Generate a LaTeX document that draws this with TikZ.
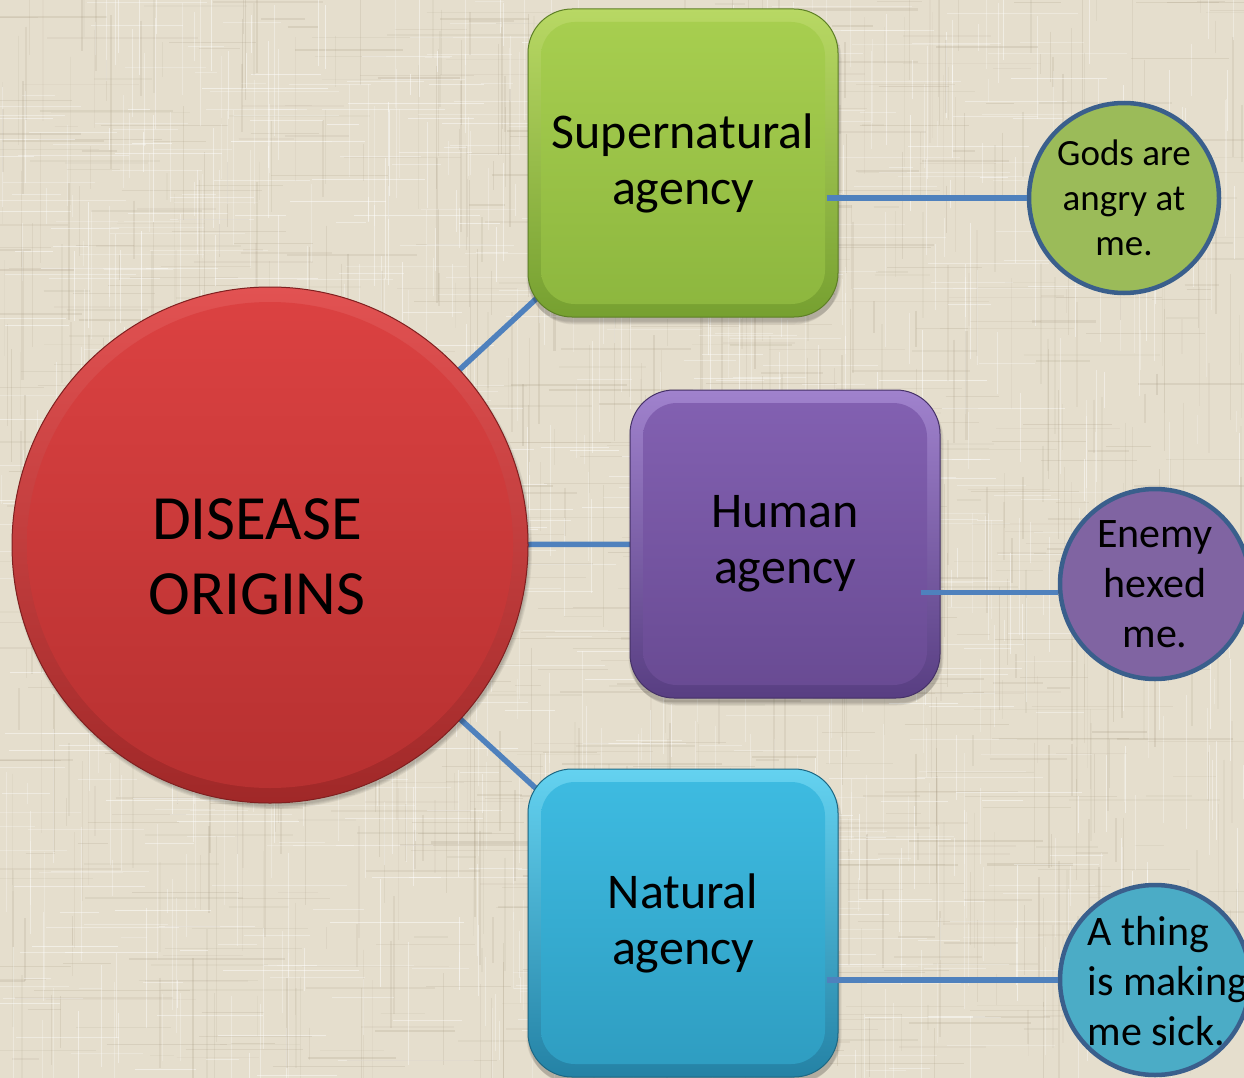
\documentclass[tikz,border=0pt]{standalone}
\usepackage{fontspec}
\setmainfont{Carlito}
\usetikzlibrary{calc}

% palette
\definecolor{linen}{RGB}{229,222,205}
\definecolor{linendark}{RGB}{165,152,128}
\definecolor{linkblue}{RGB}{79,129,189}
\definecolor{ringblue}{RGB}{58,95,140}
% green box
\definecolor{gRimT}{RGB}{184,216,100}
\definecolor{gRimB}{RGB}{118,160,48}
\definecolor{gFaceT}{RGB}{168,207,80}
\definecolor{gFaceB}{RGB}{140,182,62}
% purple box
\definecolor{pRimT}{RGB}{160,130,205}
\definecolor{pRimB}{RGB}{88,62,130}
\definecolor{pFaceT}{RGB}{131,97,178}
\definecolor{pFaceB}{RGB}{104,74,146}
% blue box
\definecolor{bRimT}{RGB}{100,210,240}
\definecolor{bRimB}{RGB}{36,130,165}
\definecolor{bFaceT}{RGB}{62,188,226}
\definecolor{bFaceB}{RGB}{46,156,192}
% red disc
\definecolor{rRimT}{RGB}{226,82,82}
\definecolor{rRimB}{RGB}{160,40,40}
\definecolor{rFaceT}{RGB}{220,66,66}
\definecolor{rFaceB}{RGB}{182,48,48}
% small discs
\definecolor{discgreen}{RGB}{155,187,89}
\definecolor{discpurple}{RGB}{128,100,162}
\definecolor{discblue}{RGB}{75,172,198}

\pgfdeclarelayer{texture}
\pgfdeclarelayer{links}
\pgfdeclarelayer{shadow}
\pgfsetlayers{texture,links,shadow,main}

\begin{document}
\begin{tikzpicture}[x=1pt,y=-1pt,
  bevelbox/.style n args={4}{rectangle, rounded corners=44pt,
    minimum width=310pt, minimum height=308pt, inner sep=0pt,
    top color=#1, bottom color=#2, draw=#2!80!black, line width=1pt,
    align=center, font=\fontsize{50}{56}\selectfont,
    path picture={\shade[top color=#3, bottom color=#4, rounded corners=34pt]
      ([shift={(13pt,13pt)}]path picture bounding box.south west) rectangle
      ([shift={(-13pt,-13pt)}]path picture bounding box.north east);}},
  beveldisc/.style n args={4}{circle, minimum size=516pt, inner sep=0pt,
    top color=#1, bottom color=#2, draw=#2!80!black, line width=1pt,
    path picture={\shade[top color=#3, bottom color=#4]
      (path picture bounding box.center) circle[radius=243pt];}},
  smalldisc/.style={circle, minimum size=190pt, inner sep=0pt,
    draw=ringblue, line width=4.5pt, fill=#1, align=center},
  link/.style={draw=linkblue, line width=5.5pt},
  shadowstep/.style={fill=black, opacity=0.06}
]
\useasboundingbox (0,0) rectangle (1244,1078);

% linen background: base colour with a fine weave of short threads
\begin{pgfonlayer}{texture}
  \fill[linen] (0,0) rectangle (1244,1078);
  \pgfmathsetseed{2718}
  \foreach \k in {1,...,650}{
    \pgfmathsetmacro\px{rnd*1244}
    \pgfmathsetmacro\py{rnd*1078}
    \pgfmathsetmacro\pl{10+rnd*70}
    \pgfmathsetmacro\pw{0.6+rnd*1.6}
    \pgfmathsetmacro\po{0.06+rnd*0.16}
    \draw[linendark, line width=\pw pt, opacity=\po] (\px,\py-\pl) -- (\px,\py+\pl);
    \pgfmathsetmacro\qx{rnd*1244}
    \pgfmathsetmacro\qy{rnd*1078}
    \pgfmathsetmacro\ql{10+rnd*70}
    \pgfmathsetmacro\qw{0.6+rnd*1.6}
    \pgfmathsetmacro\qo{0.06+rnd*0.16}
    \draw[linendark, line width=\qw pt, opacity=\qo] (\qx-\ql,\qy) -- (\qx+\ql,\qy);
    \pgfmathsetmacro\sx{rnd*1244}
    \pgfmathsetmacro\sy{rnd*1078}
    \pgfmathsetmacro\sl{10+rnd*60}
    \pgfmathsetmacro\so{0.2+rnd*0.3}
    \draw[white, line width=1pt, opacity=\so] (\sx,\sy-\sl) -- (\sx,\sy+\sl);
    \draw[white, line width=1pt, opacity=\so] (\sy-\sl,\sx) -- (\sy+\sl,\sx);
  }
\end{pgfonlayer}

% main shapes
\node[beveldisc={rRimT}{rRimB}{rFaceT}{rFaceB}] (dis) at (270,545) {};
\node[font=\fontsize{63}{75}\selectfont, align=center] (distext) at (257,557)
  {DISEASE\\ORIGINS};

\node[bevelbox={gRimT}{gRimB}{gFaceT}{gFaceB}] (sup) at (683,163)
  {Supernatural\\agency};
\node[bevelbox={pRimT}{pRimB}{pFaceT}{pFaceB}] (hum) at (785,544)
  {Human\\agency};
\node[bevelbox={bRimT}{bRimB}{bFaceT}{bFaceB}] (nat) at (683,923)
  {Natural\\agency};

\node[smalldisc=discgreen, font=\fontsize{37}{45}\selectfont] (gods) at (1124,198)
  {Gods are\\angry at\\me.};
\node[smalldisc=discpurple, font=\fontsize{42}{50}\selectfont] (enemy) at (1155,584)
  {Enemy\\hexed\\me.};
\node[smalldisc=discblue] (thing) at (1155,980) {};
\node[font=\fontsize{42}{50}\selectfont, align=left, anchor=west] (thingtext)
  at (1084,981) {A thing\\is making\\me sick.};

% soft shadows under the large shapes
\begin{pgfonlayer}{shadow}
  \foreach \g in {1,...,4}{
    \fill[shadowstep, rounded corners=44pt]
      ([shift={(3-\g pt,-8+\g pt)}]sup.south west) rectangle ([shift={(-1+\g pt,-2-\g pt)}]sup.north east);
    \fill[shadowstep, rounded corners=44pt]
      ([shift={(3-\g pt,-8+\g pt)}]hum.south west) rectangle ([shift={(-1+\g pt,-2-\g pt)}]hum.north east);
    \fill[shadowstep, rounded corners=44pt]
      ([shift={(3-\g pt,-8+\g pt)}]nat.south west) rectangle ([shift={(-1+\g pt,-2-\g pt)}]nat.north east);
    \fill[shadowstep] ([shift={(2pt,-4pt)}]dis.center) circle[radius=256pt+\g pt];
  }
\end{pgfonlayer}

% links from the centre disc to the three agencies
\begin{pgfonlayer}{links}
  \draw[link] (dis.center) -- (sup.center);
  \draw[link] (dis.center) -- (hum.center);
  \draw[link] (dis.center) -- (nat.center);
\end{pgfonlayer}

% links from each agency to its example
\coordinate (supout) at ([xshift=-12pt]sup.east |- gods.west);
\coordinate (humout) at ([xshift=-20pt]hum.east |- enemy.185);
\coordinate (natout) at ([xshift=-12pt]nat.east |- thing.west);
\draw[link] (supout) -- (gods.west);
\draw[link] (humout) -- (enemy.185);
\draw[link] (natout) -- (thing.west);
\end{tikzpicture}
\end{document}
